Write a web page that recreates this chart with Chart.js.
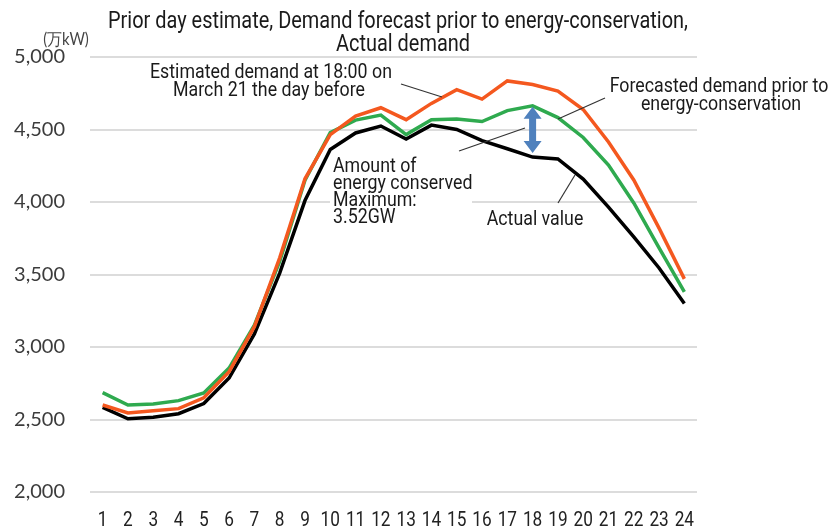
<!DOCTYPE html>
<html>
<head>
<meta charset="utf-8">
<script src="https://cdn.jsdelivr.net/npm/chart.js@4.4.1/dist/chart.umd.min.js"></script>
<style>
  html, body { margin: 0; padding: 0; background: #fff; }
  #wrap { width: 829px; height: 529px; }
</style>
</head>
<body>
<div id="wrap"><canvas id="demandChart" width="829" height="529"></canvas></div>
<script>
// hours of the day (x axis)
const hours = ["1","2","3","4","5","6","7","8","9","10","11","12","13","14","15","16","17","18","19","20","21","22","23","24"];

// prior day estimate (orange), 10,000 kW
const priorEstimate = [2600, 2545, 2560, 2575, 2650, 2830, 3140, 3615, 4160, 4465, 4593, 4650, 4568, 4680, 4775, 4710, 4835, 4810, 4765, 4638, 4414, 4152, 3820, 3470];
// forecast before energy conservation (green)
const preConservation = [2685, 2600, 2607, 2630, 2683, 2855, 3150, 3590, 4150, 4478, 4565, 4600, 4465, 4568, 4572, 4555, 4630, 4663, 4582, 4445, 4255, 3993, 3683, 3380];
// actual demand (black)
const actualDemand = [2584, 2505, 2515, 2540, 2610, 2786, 3090, 3510, 4010, 4362, 4476, 4524, 4434, 4530, 4500, 4423, 4367, 4310, 4297, 4158, 3965, 3759, 3545, 3300];

const yTicks = [2000, 2500, 3000, 3500, 4000, 4500, 5000];

const narrowFont = "Roboto, 'Noto Sans', sans-serif";
const roundFont = "Lato, 'Noto Sans', sans-serif";

// draw text squeezed horizontally (the original uses a condensed face)
function narrowText(ctx, text, x, y, sx) {
  ctx.save();
  ctx.translate(x, y);
  ctx.scale(sx, 1);
  ctx.fillText(text, 0, 0);
  ctx.restore();
}

// title, callouts, hour labels and the blue double arrow
const notesPlugin = {
  id: "notes",
  beforeDatasetsDraw(chart) {
    const ctx = chart.ctx;
    // white box behind the "Amount of energy conserved" block hides the grid line
    ctx.save();
    ctx.fillStyle = "#fff";
    ctx.fillRect(330, 156, 142, 72);
    ctx.restore();
  },
  afterDraw(chart) {
    const ctx = chart.ctx;
    const x = chart.scales.x;
    const y = chart.scales.y;
    ctx.save();
    ctx.textBaseline = "alphabetic";

    // title
    ctx.fillStyle = "#1a1a1a";
    ctx.textAlign = "center";
    ctx.font = "23px " + narrowFont;
    const t1 = "Prior day estimate, Demand forecast prior to energy-conservation,";
    const tsx = 580 / ctx.measureText(t1).width;
    narrowText(ctx, t1, 398, 28, tsx);
    narrowText(ctx, "Actual demand", 403, 51, tsx);

    // unit
    ctx.font = "17px " + roundFont;
    ctx.fillStyle = "#444";
    ctx.textAlign = "center";
    narrowText(ctx, "(万kW)", 66, 45, 0.88);

    // hour labels under the axis
    ctx.font = "21px " + narrowFont;
    ctx.fillStyle = "#222";
    hours.forEach((h, i) => {
      narrowText(ctx, h, x.getPixelForValue(i), 526, 0.82);
    });

    // double arrow at hour 18
    const ax = x.getPixelForValue(17);
    const aTop = y.getPixelForValue(preConservation[17]) + 1;
    const aBot = y.getPixelForValue(actualDemand[17]) - 4;
    ctx.fillStyle = "#4f81bd";
    ctx.beginPath();
    ctx.moveTo(ax, aTop);
    ctx.lineTo(ax + 9, aTop + 12);
    ctx.lineTo(ax + 3.5, aTop + 12);
    ctx.lineTo(ax + 3.5, aBot - 12);
    ctx.lineTo(ax + 9, aBot - 12);
    ctx.lineTo(ax, aBot);
    ctx.lineTo(ax - 9, aBot - 12);
    ctx.lineTo(ax - 3.5, aBot - 12);
    ctx.lineTo(ax - 3.5, aTop + 12);
    ctx.lineTo(ax - 9, aTop + 12);
    ctx.closePath();
    ctx.fill();

    // leader lines
    ctx.strokeStyle = "#333";
    ctx.lineWidth = 1.2;
    const leaders = [
      [401, 84, 442, 97],
      [605, 98, 558, 119],
      [459, 151, 525, 128],
      [558, 203, 575, 175]
    ];
    leaders.forEach(l => {
      ctx.beginPath();
      ctx.moveTo(l[0], l[1]);
      ctx.lineTo(l[2], l[3]);
      ctx.stroke();
    });

    // callout texts
    ctx.fillStyle = "#1a1a1a";
    ctx.font = "21px " + narrowFont;
    const csx = 242 / ctx.measureText("Estimated demand at 18:00 on").width;
    ctx.textAlign = "center";
    narrowText(ctx, "Estimated demand at 18:00 on", 271, 78, csx);
    narrowText(ctx, "March 21 the day before", 269, 96, csx);
    narrowText(ctx, "Forecasted demand prior to", 719, 92, csx);
    narrowText(ctx, "energy-conservation", 721, 110, csx);
    narrowText(ctx, "Actual value", 535, 225, csx);

    ctx.textAlign = "left";
    narrowText(ctx, "Amount of", 333, 172, csx);
    narrowText(ctx, "energy conserved", 333, 189, csx);
    narrowText(ctx, "Maximum:", 333, 206, csx);
    narrowText(ctx, "3.52GW", 333, 223, csx);

    ctx.restore();
  }
};

const ctx = document.getElementById("demandChart").getContext("2d");
const demandChart = new Chart(ctx, {
  type: "line",
  data: {
    labels: hours,
    datasets: [
      {
        label: "Prior day estimate",
        data: priorEstimate,
        borderColor: "#f4581f",
        borderWidth: 3.5,
        pointRadius: 0,
        tension: 0,
        fill: false
      },
      {
        label: "Forecast prior to energy-conservation",
        data: preConservation,
        borderColor: "#2faa4f",
        borderWidth: 3.5,
        pointRadius: 0,
        tension: 0,
        fill: false
      },
      {
        label: "Actual demand",
        data: actualDemand,
        borderColor: "#000",
        borderWidth: 3.5,
        pointRadius: 0,
        tension: 0,
        fill: false
      }
    ]
  },
  options: {
    responsive: false,
    animation: false,
    layout: {
      padding: { left: 0, top: 57, right: 132, bottom: 0 }
    },
    plugins: {
      legend: { display: false },
      title: { display: false },
      tooltip: { enabled: false }
    },
    scales: {
      x: {
        offset: true,
        grid: { display: false, drawTicks: false },
        border: { display: false },
        ticks: { display: false, autoSkip: false },
        afterFit(scale) { scale.height = 37; }
      },
      y: {
        min: 2000,
        max: 5000,
        afterBuildTicks(scale) {
          scale.ticks = yTicks.map(v => ({ value: v }));
        },
        grid: { color: "#dcdcdc", lineWidth: 2, drawTicks: false },
        border: { display: false },
        ticks: {
          color: "#3c3c3c",
          font: { family: roundFont, size: 20 },
          padding: 25,
          callback: v => v.toLocaleString("en-US")
        },
        afterFit(scale) { scale.width = 90; }
      }
    }
  },
  plugins: [notesPlugin]
});
</script>
</body>
</html>
